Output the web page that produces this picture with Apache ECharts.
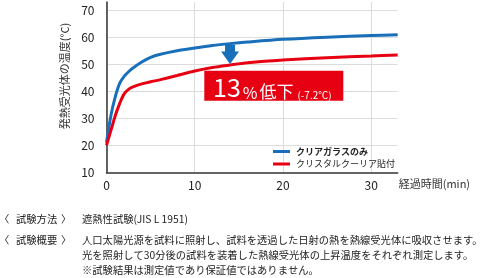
<!DOCTYPE html>
<html><head><meta charset="utf-8">
<script src="https://cdn.jsdelivr.net/npm/echarts@6/dist/echarts.min.js"></script>
<style>html,body{margin:0;padding:0;background:#fff}#c{width:500px;height:278px}</style>
</head><body><div id="c"></div>
<script>
// ---- data ----
var seriesNames = ['クリアガラスのみ', 'クリスタルクーリア貼付'];
var blueTimes = [0, 0.5, 1, 1.5, 2, 2.5, 3, 4, 5, 6, 8, 10, 12, 14, 16, 20, 25, 30, 33];
var blueTemps = [21, 31, 38, 43, 45.5, 47.2, 48.6, 50.8, 52.5, 53.6, 55, 56, 56.9, 57.6, 58.2, 59.2, 60, 60.6, 60.9];
var redTimes  = [0, 0.5, 1, 1.5, 2, 2.5, 3, 4, 5, 6, 8, 10, 12, 14, 16, 20, 25, 30, 33];
var redTemps  = [20, 25.5, 31, 35.5, 39, 40.7, 41.6, 42.7, 43.5, 44.2, 45.8, 47.5, 48.8, 49.7, 50.5, 51.5, 52.4, 53, 53.4];
var xTicks = [0, 10, 20, 30];
var yTicks = [10, 20, 30, 40, 50, 60, 70];
var xAxisName = '経過時間(min)';
var yAxisName = '発熱受光体の温度(°C)';
var arrowTime = 14;
var dropPercent = '13';
var dropDegrees = '-7.2℃';
var noteLabels = ['試験方法', '試験概要', '', ''];
var noteTexts = [
  '遮熱性試験(JIS L 1951)',
  '人口太陽光源を試料に照射し、試料を透過した日射の熱を熱線受光体に吸収させます。',
  '光を照射して30分後の試料を装着した熱線受光体の上昇温度をそれぞれ測定します。',
  '※試験結果は測定値であり保証値ではありません。'
];

function pairs(xs, ys){ return xs.map(function(x,i){ return [x, ys[i]]; }); }

var FONT = '"Noto Sans CJK JP", "Noto Sans", sans-serif';
var BLUE = '#1a6fba', RED = '#e60012';
var chart = echarts.init(document.getElementById('c'), null, {renderer:'canvas'});

var baseGraphics = [];
var noteY = [219, 240, 255, 270];
function noteText(x, y, t){
  return {type:'text', x:x, y:y, style:{text:t, font:'10.3px ' + FONT, fill:'#222', verticalAlign:'middle'}};
}
noteTexts.forEach(function(t, i){
  if (noteLabels[i]) {
    baseGraphics.push(noteText(-1, noteY[i], '〈'));
    baseGraphics.push(noteText(16, noteY[i], noteLabels[i]));
    baseGraphics.push(noteText(61, noteY[i], '〉'));
  }
  baseGraphics.push(noteText(82, noteY[i], t));
});
baseGraphics.push({type:'text', x:65, y:76, rotation:Math.PI/2,
  style:{text:yAxisName, font:'11px ' + FONT, fill:'#333', align:'center', verticalAlign:'middle'}});

chart.setOption({
  animation:false,
  textStyle:{fontFamily:FONT},
  grid:{left:106.5, right:102.3, top:2, bottom:105.7, containLabel:false},
  xAxis:{
    type:'value', min:0, max:33, interval:10,
    name:xAxisName, nameLocation:'end', nameGap:1,
    nameTextStyle:{fontSize:11, color:'#333', align:'left', verticalAlign:'top', padding:[6,0,0,0]},
    axisLine:{show:true, lineStyle:{color:'#333', width:1.5}},
    axisTick:{show:false},
    axisLabel:{fontSize:12, color:'#222', margin:7, showMaxLabel:false,
      formatter:function(v){ return xTicks.indexOf(v) >= 0 ? String(v) : ''; }},
    splitLine:{show:true, showMaxLine:false, lineStyle:{color:'#dcdcdc', width:1}}
  },
  yAxis:{
    type:'value', min:10, max:73, interval:10,
    axisLine:{show:true, lineStyle:{color:'#333', width:1.5}},
    axisTick:{show:false},
    axisLabel:{fontSize:12, color:'#222', margin:12, showMaxLabel:false,
      formatter:function(v){ return yTicks.indexOf(v) >= 0 ? String(v) : ''; }},
    splitLine:{show:true, showMinLine:false, showMaxLine:false, lineStyle:{color:'#dcdcdc', width:1}}
  },
  legend:[
    {data:[{name:seriesNames[0], textStyle:{fontWeight:'bold'}}], left:268, top:142, orient:'vertical', icon:'rect', itemWidth:17, itemHeight:3, itemGap:0,
      textStyle:{fontSize:9, color:'#222', padding:[0,0,0,1]}, selectedMode:false},
    {data:[seriesNames[1]], left:268, top:154.5, orient:'vertical', icon:'rect', itemWidth:17, itemHeight:3, itemGap:0,
      textStyle:{fontSize:9, color:'#222', padding:[0,0,0,1]}, selectedMode:false}
  ],
  series:[
    {name:seriesNames[0], type:'line', data:pairs(blueTimes, blueTemps), smooth:0.3, showSymbol:false,
      lineStyle:{color:BLUE, width:3}, itemStyle:{color:BLUE}, z:3},
    {name:seriesNames[1], type:'line', data:pairs(redTimes, redTemps), smooth:0.3, showSymbol:false,
      lineStyle:{color:RED, width:3}, itemStyle:{color:RED}, z:3}
  ],
  graphic:baseGraphics
});

// annotation: arrow from blue to red at arrowTime, and red label box
function interp(xs, ys, t){
  for (var i=0;i<xs.length-1;i++){ if (t>=xs[i] && t<=xs[i+1]) { var f=(t-xs[i])/(xs[i+1]-xs[i]); return ys[i]+f*(ys[i+1]-ys[i]); } }
  return ys[ys.length-1];
}
var pTop = chart.convertToPixel({gridIndex:0}, [arrowTime, interp(blueTimes, blueTemps, arrowTime)]);
var pTip = chart.convertToPixel({gridIndex:0}, [arrowTime, interp(redTimes, redTemps, arrowTime)]);
var cx = pTop[0], yT = pTop[1] + 1, yB = pTip[1] - 1;
var headH = 12.5, shaftW = 5, headW = 9;
var arrowPts = [[cx-shaftW, yT],[cx+shaftW, yT],[cx+shaftW, yB-headH],[cx+headW, yB-headH],[cx, yB],[cx-headW, yB-headH],[cx-shaftW, yB-headH]];

chart.setOption({graphic: baseGraphics.concat([
  {type:'polygon', shape:{points:arrowPts}, style:{fill:BLUE}, z:10},
  {type:'rect', shape:{x:204.3, y:70.7, width:139, height:30}, style:{fill:RED}, z:10},
  {type:'text', x:213, y:86.5, z:11, style:{
    text:'{a|' + dropPercent + '}{b|%}{c|低下}{d|(' + dropDegrees + ')}',
    verticalAlign:'middle', align:'left',
    rich:{
      a:{fontSize:25, fill:'#fff', fontFamily:FONT, verticalAlign:'bottom', lineHeight:28},
      b:{fontSize:16, fill:'#fff', fontFamily:FONT, verticalAlign:'bottom', lineHeight:24, padding:[0,2,0,2]},
      c:{fontSize:17, fill:'#fff', fontFamily:FONT, verticalAlign:'bottom', lineHeight:25},
      d:{fontSize:10, fill:'#fff', fontFamily:FONT, verticalAlign:'bottom', lineHeight:21, padding:[0,0,0,4]}
    }}}
])});
</script></body></html>
